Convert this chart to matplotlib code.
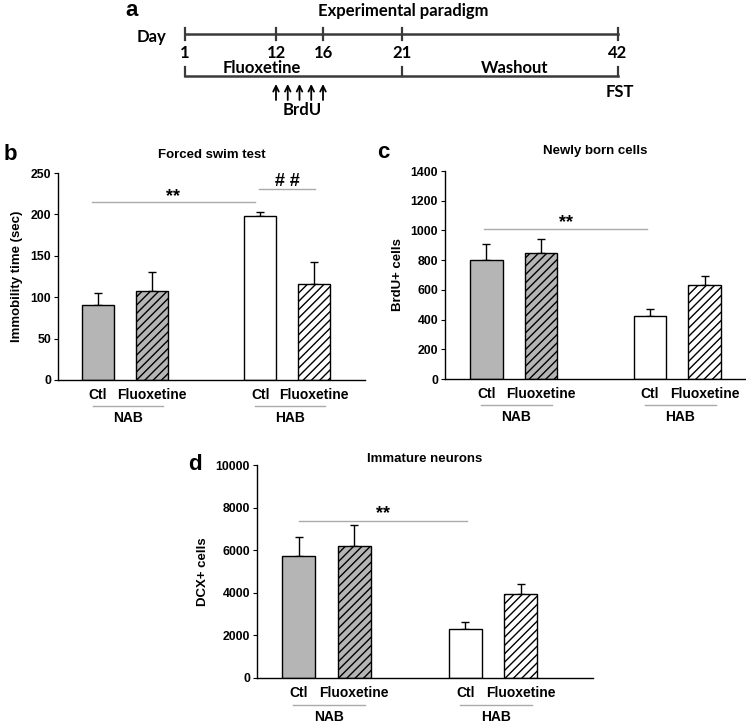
import numpy as np
import matplotlib
matplotlib.use("Agg")
import matplotlib.pyplot as plt
from matplotlib.transforms import blended_transform_factory

plt.rcParams['font.family'] = ['Liberation Sans', 'DejaVu Sans']
plt.rcParams['font.weight'] = 'bold'
plt.rcParams['hatch.linewidth'] = 1.0

# ---- data ----
treatments = ['Ctl', 'Fluoxetine', 'Ctl', 'Fluoxetine']
lines_ = ['NAB', 'HAB']

fst_mean = [90, 108, 198, 116]
fst_err = [15, 22, 5, 27]

brdu_mean = [800, 848, 425, 635]
brdu_err = [112, 92, 45, 55]

dcx_mean = [5750, 6200, 2300, 3950]
dcx_err = [850, 1000, 350, 480]

tl_days = [1, 12, 16, 21, 42]
brdu_days = [12, 13, 14, 15, 16]

W, H = 746, 724
fig = plt.figure(figsize=(W / 100, H / 100), dpi=100)


def px_axes(x0, y0, x1, y1):
    # pixel box (top-left origin) -> figure axes
    return fig.add_axes([x0 / W, 1 - y1 / H, (x1 - x0) / W, (y1 - y0) / H])


# ---- panel a: timeline ----
axa = fig.add_axes([0, 0, 1, 1], zorder=-1)
axa.set_xlim(0, W)
axa.set_ylim(H, 0)
axa.axis('off')
tl_px = [185, 276, 323, 402, 618]   # drawn positions of the day ticks
ff = ['Lato', 'DejaVu Sans']
lc = '#3a3a3a'
fs_a = 12
axa.text(132, 10, 'a', fontsize=16, fontweight='bold', ha='center', va='center')
axa.text(403, 11, 'Experimental paradigm', fontsize=fs_a, fontweight='bold', family=ff,
         ha='center', va='center')
axa.text(152, 37, 'Day', fontsize=fs_a, fontweight='bold', family=ff, ha='center', va='center')
axa.plot([tl_px[0], tl_px[-1]], [34, 34], color=lc, lw=1.8)
for d, p in zip(tl_days, tl_px):
    axa.plot([p, p], [28, 40], color=lc, lw=1.6)
    axa.text(p, 53, str(d), fontsize=fs_a, fontweight='bold', family=ff, ha='center', va='center')
axa.plot([tl_px[0], tl_px[-1]], [76, 76], color=lc, lw=1.8)
for p in [tl_px[0], tl_px[3], tl_px[4]]:
    axa.plot([p, p], [67, 76], color=lc, lw=1.6)
axa.text(262, 68, 'Fluoxetine', fontsize=fs_a, fontweight='bold', family=ff, ha='center', va='center')
axa.text(515, 68, 'Washout', fontsize=fs_a, fontweight='bold', family=ff, ha='center', va='center')
for d in brdu_days:
    x = np.interp(d, tl_days, tl_px)
    axa.annotate('', xy=(x, 84), xytext=(x, 100),
                 arrowprops=dict(arrowstyle='->', color='black', lw=1.3,
                                 mutation_scale=10, shrinkA=0, shrinkB=0))
axa.text(302, 110, 'BrdU', fontsize=fs_a, fontweight='bold', family=ff, ha='center', va='center')
axa.text(620, 92, 'FST', fontsize=fs_a, fontweight='bold', family=ff, ha='center', va='center')


# ---- bar panels ----
pos = np.array([0, 1, 3, 4])
faces = ['#b5b5b5', '#b5b5b5', 'white', 'white']
hatches = [None, '////', None, '////']


def bar_panel(ax, mean, err, ymax, ystep, xlim):
    ax.bar(pos, mean, width=0.6, color=faces, edgecolor='black', linewidth=1.0,
           hatch=hatches, zorder=2)
    ax.errorbar(pos, mean, yerr=[np.zeros(4), err], fmt='none', ecolor='black',
                elinewidth=1.0, capsize=3, capthick=1.0, zorder=1)
    ax.set_xlim(*xlim)
    ax.set_ylim(0, ymax)
    ax.set_yticks(np.arange(0, ymax + 1, ystep))
    ax.spines['top'].set_visible(False)
    ax.spines['right'].set_visible(False)
    ax.spines['left'].set_linewidth(1.0)
    ax.spines['bottom'].set_linewidth(1.0)
    ax.tick_params(axis='y', direction='out', length=3, labelsize=8.8, pad=2)
    ax.set_xticks(pos)
    ax.set_xticklabels(treatments, fontsize=10, fontweight='bold')
    ax.tick_params(axis='x', length=0, pad=6)
    for lab in ax.get_yticklabels():
        lab.set_fontweight('bold')
    tr = blended_transform_factory(ax.transData, ax.transAxes)
    for g, name in enumerate(lines_):
        a, b = pos[2 * g], pos[2 * g + 1]
        ax.plot([a - 0.1, b + 0.2], [-0.125, -0.125], transform=tr, color='#aaaaaa',
                lw=1.0, clip_on=False)
        ax.text((a + b) / 2 + 0.05, -0.185, name, transform=tr, fontsize=10,
                fontweight='bold', ha='center', va='center')


def sig(ax, x0, x1, y, label, dy):
    ax.plot([x0, x1], [y, y], color='#aaaaaa', lw=1.0, clip_on=False)
    ax.text((x0 + x1) / 2, y + dy, label, fontsize=13, fontweight='bold',
            ha='center', va='center')


# panel b
axb = px_axes(58, 173, 365, 380)
bar_panel(axb, fst_mean, fst_err, 250, 50, (-0.74, 4.94))
axb.set_ylabel('Immobility time (sec)', fontsize=9.5, fontweight='bold', labelpad=5)
axb.set_title('Forced swim test', fontsize=9.5, fontweight='bold', pad=11)
sig(axb, -0.12, 2.9, 215, '**', 6)
sig(axb, 2.98, 4.02, 231, '# #', 9)
fig.text(10 / W, 1 - 154 / H, 'b', fontsize=16, fontweight='bold', ha='center', va='center')

# panel c
axc = px_axes(445, 171, 745, 379)
bar_panel(axc, brdu_mean, brdu_err, 1400, 200, (-0.76, 4.74))
axc.set_ylabel('BrdU+ cells', fontsize=9.5, fontweight='bold', labelpad=5)
axc.set_title('Newly born cells', fontsize=9.5, fontweight='bold', pad=12)
sig(axc, -0.05, 2.95, 1010, '**', 45)
fig.text(383 / W, 1 - 152 / H, 'c', fontsize=16, fontweight='bold', ha='center', va='center')

# panel d
axd = px_axes(257, 465, 593, 678)
bar_panel(axd, dcx_mean, dcx_err, 10000, 2000, (-0.75, 5.3))
axd.set_ylabel('DCX+ cells', fontsize=9.5, fontweight='bold', labelpad=5)
axd.set_title('Immature neurons', fontsize=9.5, fontweight='bold', pad=-6)
sig(axd, 0.0, 3.04, 7370, '**', 330)
fig.text(195 / W, 1 - 465 / H, 'd', fontsize=16, fontweight='bold', ha='center', va='center')

fig.savefig('out.png', dpi=100)
